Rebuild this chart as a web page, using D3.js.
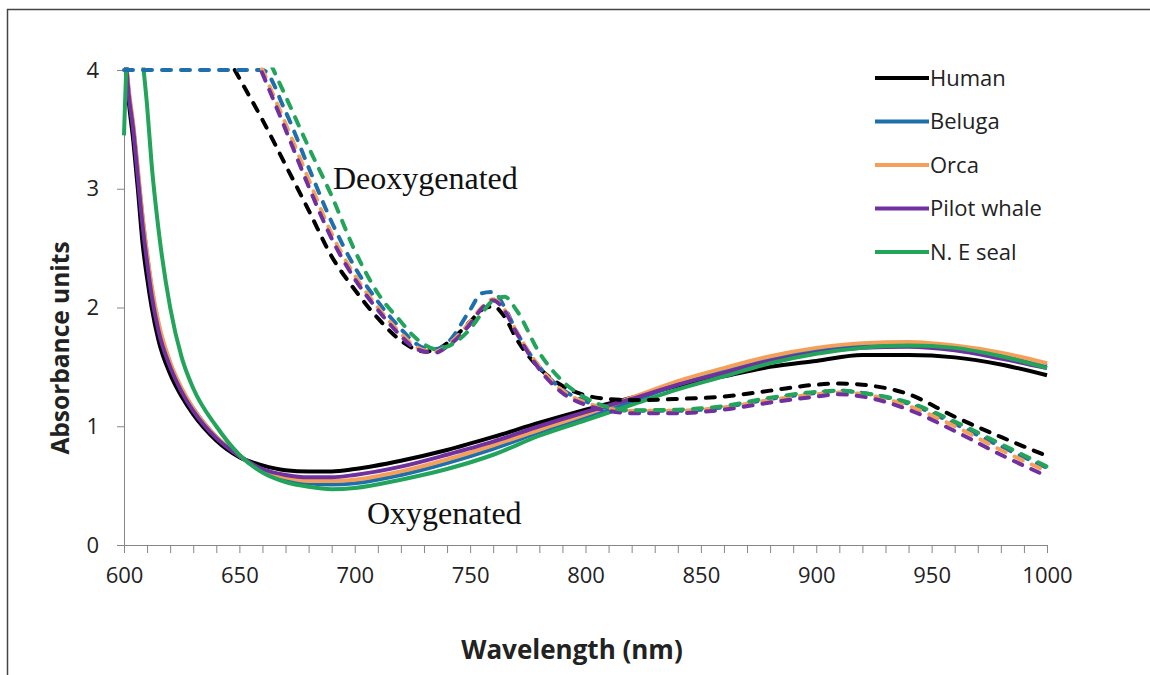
<!DOCTYPE html>
<html>
<head>
<meta charset="utf-8">
<script src="https://cdn.jsdelivr.net/npm/d3@7"></script>
<style>
  body { margin: 0; background: #fff; }
  svg { display: block; }
</style>
</head>
<body>
<script>
// species and colours (legend order = draw order)
const species = ["Human", "Beluga", "Orca", "Pilot whale", "N. E seal"];
const colors = ["#000000", "#1f6fad", "#f5a05a", "#7030a0", "#22a45a"];

// oxygenated spectra (solid lines)
const oxyNm = [600, 602, 604, 606, 608, 610, 612, 615, 620, 625, 630, 640, 650, 660, 670, 680, 690, 700,
               720, 740, 760, 780, 800, 820, 840, 860, 880, 900, 920, 940, 960, 980, 1000];
const oxyHuman  = [4.3, 3.75, 3.41, 3.0, 2.55, 2.25, 2.0, 1.72, 1.44, 1.25, 1.1, 0.88, 0.74, 0.67, 0.63, 0.62, 0.62, 0.64,
                   0.71, 0.80, 0.91, 1.03, 1.14, 1.24, 1.34, 1.42, 1.50, 1.55, 1.60, 1.60, 1.58, 1.52, 1.43];
const oxyBeluga = [4.3, 3.82, 3.52, 3.14, 2.76, 2.44, 2.16, 1.85, 1.53, 1.31, 1.15, 0.91, 0.75, 0.62, 0.55, 0.52, 0.51, 0.52,
                   0.59, 0.69, 0.81, 0.95, 1.08, 1.21, 1.35, 1.47, 1.57, 1.64, 1.68, 1.69, 1.66, 1.60, 1.51];
const oxyOrca   = [4.3, 3.85, 3.55, 3.17, 2.78, 2.46, 2.18, 1.87, 1.54, 1.32, 1.15, 0.91, 0.75, 0.63, 0.57, 0.54, 0.54, 0.55,
                   0.62, 0.72, 0.84, 0.97, 1.10, 1.24, 1.38, 1.49, 1.59, 1.66, 1.70, 1.71, 1.68, 1.62, 1.53];
const oxyPilot  = [4.3, 3.8, 3.5, 3.1, 2.7, 2.38, 2.1, 1.8, 1.5, 1.29, 1.13, 0.9, 0.75, 0.64, 0.59, 0.57, 0.57, 0.59,
                   0.66, 0.76, 0.87, 1.0, 1.12, 1.23, 1.35, 1.45, 1.55, 1.62, 1.66, 1.67, 1.64, 1.57, 1.49];
const oxySeal   = [3.45, 4.4, 4.6, 4.5, 4.1, 3.7, 3.2, 2.65, 2.0, 1.58, 1.32, 1.0, 0.76, 0.61, 0.53, 0.49, 0.47, 0.48,
                   0.55, 0.64, 0.76, 0.92, 1.05, 1.18, 1.31, 1.42, 1.53, 1.61, 1.66, 1.68, 1.66, 1.59, 1.49];

// deoxygenated spectra (dashed lines)
const deoxyNm = [600, 640, 650, 660, 670, 680, 690, 700, 710, 720, 725, 730, 735, 740, 750, 755, 760, 765, 770, 780, 790,
                 800, 810, 820, 840, 860, 880, 900, 910, 920, 940, 960, 980, 1000];
const deoxyHuman  = [null, 4.28, 3.93, 3.58, 3.2, 2.82, 2.43, 2.15, 1.91, 1.72, 1.66, 1.63, 1.64, 1.70, 1.88, 1.98, 2.01, 1.92, 1.74, 1.49, 1.34,
                     1.26, 1.23, 1.22, 1.23, 1.25, 1.30, 1.35, 1.36, 1.35, 1.27, 1.08, 0.91, 0.75];
const deoxyBeluga = [4, 4, 4, 4, 3.65, 3.18, 2.72, 2.34, 2.05, 1.82, 1.72, 1.66, 1.65, 1.70, 1.98, 2.12, 2.13, 2.0, 1.8, 1.5, 1.31,
                     1.21, 1.15, 1.13, 1.13, 1.16, 1.23, 1.28, 1.30, 1.28, 1.19, 1.02, 0.83, 0.65];
const deoxyOrca   = [null, null, 4.45, 4.0, 3.55, 3.08, 2.62, 2.27, 2.0, 1.78, 1.69, 1.64, 1.63, 1.68, 1.88, 2.0, 2.07, 1.98, 1.8, 1.5, 1.3,
                     1.2, 1.15, 1.13, 1.13, 1.16, 1.22, 1.27, 1.285, 1.27, 1.17, 1.0, 0.8, 0.62];
const deoxyPilot  = [null, null, 4.42, 3.97, 3.5, 3.02, 2.58, 2.24, 1.98, 1.76, 1.67, 1.63, 1.62, 1.67, 1.86, 1.99, 2.06, 1.97, 1.79, 1.48, 1.28,
                     1.18, 1.13, 1.11, 1.11, 1.14, 1.20, 1.25, 1.27, 1.25, 1.14, 0.96, 0.76, 0.58];
const deoxySeal   = [null, null, 4.62, 4.2, 3.78, 3.35, 2.94, 2.48, 2.12, 1.88, 1.77, 1.69, 1.65, 1.67, 1.82, 1.95, 2.06, 2.09, 1.98, 1.62, 1.38,
                     1.24, 1.16, 1.135, 1.14, 1.17, 1.24, 1.29, 1.30, 1.28, 1.20, 1.04, 0.85, 0.66];

const xTicks = d3.range(600, 1001, 10);
const yTicks = [0, 1, 2, 3, 4];

const oxySeries = [oxyHuman, oxyBeluga, oxyOrca, oxyPilot, oxySeal];
const deoxySeries = [deoxyHuman, deoxyBeluga, deoxyOrca, deoxyPilot, deoxySeal];

const width = 1150, height = 675;
const axisColor = "#868686";
const sans = "'Open Sans', 'Noto Sans', sans-serif";
const serif = "'Liberation Serif', 'Times New Roman', serif";

const svg = d3.select("body").append("svg")
    .attr("width", width)
    .attr("height", height);

// outer chart frame (cut by the picture edge on right and bottom)
svg.append("rect")
    .attr("x", 7.5).attr("y", 9.5)
    .attr("width", 1200).attr("height", 700)
    .attr("fill", "none")
    .attr("stroke", "#444")
    .attr("stroke-width", 1.5);

const x = d3.scaleLinear().domain([600, 1000]).range([124, 1047]);
const y = d3.scaleLinear().domain([0, 4]).range([545, 70]);

// plot area clip: values above 4 run out of the top and are hidden
svg.append("clipPath").attr("id", "plotclip")
  .append("rect")
    .attr("x", 120).attr("y", 67.5)
    .attr("width", 935).attr("height", 482);

// axes
const xAxis = svg.append("g")
    .attr("transform", `translate(0,${y(0)})`)
    .call(d3.axisBottom(x)
        .tickValues(xTicks)
        .tickFormat(d => d % 50 === 0 ? d : "")
        .tickSize(8)
        .tickSizeOuter(0)
        .tickPadding(14));
xAxis.select(".domain").attr("stroke", axisColor);
xAxis.selectAll(".tick line").attr("stroke", axisColor);
xAxis.selectAll(".tick text")
    .attr("fill", "#222")
    .style("font-family", sans)
    .style("font-size", "22px");

const yAxis = svg.append("g")
    .attr("transform", `translate(${x(600)},0)`)
    .call(d3.axisLeft(y)
        .tickValues(yTicks)
        .tickFormat(d3.format("d"))
        .tickSize(7)
        .tickSizeOuter(0)
        .tickPadding(18));
yAxis.select(".domain").attr("stroke", axisColor);
yAxis.selectAll(".tick line").attr("stroke", axisColor);
yAxis.selectAll(".tick text")
    .attr("fill", "#222")
    .style("font-family", sans)
    .style("font-size", "22px");

// axis titles
svg.append("text")
    .attr("x", 572).attr("y", 659)
    .attr("text-anchor", "middle")
    .style("font-family", sans)
    .style("font-size", "26px")
    .style("font-weight", "bold")
    .attr("fill", "#222")
    .text("Wavelength (nm)");

svg.append("text")
    .attr("transform", "translate(69,348) rotate(-90)")
    .attr("text-anchor", "middle")
    .style("font-family", sans)
    .style("font-size", "24.5px")
    .style("font-weight", "bold")
    .attr("fill", "#222")
    .text("Absorbance units");

// lines
const plot = svg.append("g").attr("clip-path", "url(#plotclip)");

function drawSet(nm, series, dashed) {
    const line = d3.line()
        .defined(d => d[1] !== null)
        .x(d => x(d[0]))
        .y(d => y(d[1]))
        .curve(d3.curveMonotoneX);
    series.forEach((vals, i) => {
        plot.append("path")
            .datum(nm.map((w, j) => [w, vals[j]]))
            .attr("fill", "none")
            .attr("stroke", colors[i])
            .attr("stroke-width", 4)
            .attr("stroke-linecap", dashed ? "round" : "butt")
            .attr("stroke-linejoin", "round")
            .attr("stroke-dasharray", dashed ? "9,10" : null)
            .attr("d", line);
    });
}
drawSet(oxyNm, oxySeries, false);
drawSet(deoxyNm, deoxySeries, true);

// curve labels
svg.append("text")
    .attr("x", 333).attr("y", 189)
    .style("font-family", serif)
    .style("font-size", "32px")
    .attr("fill", "#111")
    .text("Deoxygenated");

svg.append("text")
    .attr("x", 367).attr("y", 524)
    .style("font-family", serif)
    .style("font-size", "32px")
    .attr("fill", "#111")
    .text("Oxygenated");

// legend
const legend = svg.append("g");
species.forEach((name, i) => {
    const ly = 78 + i * 43.5;
    legend.append("line")
        .attr("x1", 875).attr("x2", 929)
        .attr("y1", ly).attr("y2", ly)
        .attr("stroke", colors[i])
        .attr("stroke-width", 4);
    legend.append("text")
        .attr("x", 930).attr("y", ly + 7.5)
        .style("font-family", sans)
        .style("font-size", "22px")
        .attr("fill", "#222")
        .text(name);
});
</script>
</body>
</html>
